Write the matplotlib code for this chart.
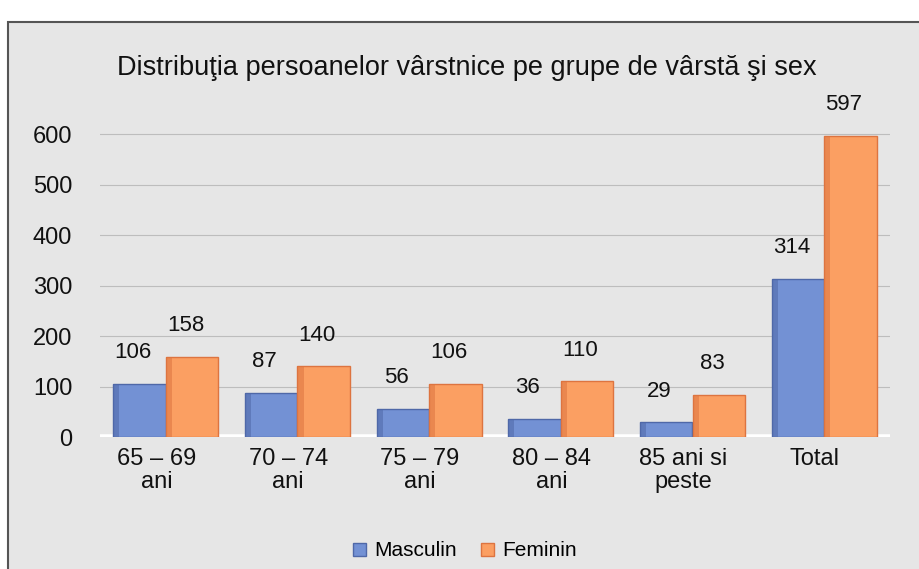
import matplotlib.pyplot as plt
from matplotlib.patches import Rectangle
import numpy as np

plt.rcParams['font.family'] = ['Liberation Sans', 'DejaVu Sans']

categories = ['65 – 69\nani', '70 – 74\nani', '75 – 79\nani', '80 – 84\nani', '85 ani si\npeste', 'Total']
masculin = [106, 87, 56, 36, 29, 314]
feminin = [158, 140, 106, 110, 83, 597]

blue = '#7391d4'
blue_side = '#4f68a8'
orange = '#fb9f62'
orange_side = '#dd7440'

fig = plt.figure(figsize=(9.2, 5.69), dpi=100)
fig.patch.set_facecolor('white')

# scanned chart frame
fig.patches.append(Rectangle((8 / 920, -0.01), 1.0, 1 - 22 / 569 + 0.01,
                             transform=fig.transFigure, facecolor='#e6e6e6',
                             edgecolor='#555555', linewidth=1.5, zorder=-1))

ax = fig.add_axes([100 / 920, 132 / 569, 790 / 920, 328 / 569])
ax.set_facecolor('none')

x = np.arange(len(categories))
w = 0.4

b1 = ax.bar(x - w / 2, masculin, w, color=blue, edgecolor=blue_side, linewidth=1, label='Masculin', zorder=3)
b2 = ax.bar(x + w / 2, feminin, w, color=orange, edgecolor=orange_side, linewidth=1, label='Feminin', zorder=3)

# darker side strip to suggest the 3D look
for bars, side in ((b1, blue_side), (b2, orange_side)):
    for r in bars:
        ax.bar(r.get_x() + r.get_width() * 0.06, r.get_height(), r.get_width() * 0.12,
               color=side, alpha=0.55, linewidth=0, zorder=4)

for vals, off in ((masculin, -w / 2), (feminin, w / 2)):
    for xi, v in zip(x, vals):
        ax.annotate(str(v), (xi + off - 0.05, v), xytext=(0, 15), textcoords='offset points',
                    ha='center', va='bottom', fontsize=16, color='#111111', zorder=5)

# floor
ax.axhline(0, color='white', linewidth=4, zorder=2)

ax.set_ylim(0, 650)
ax.set_xlim(-0.5, 5.5)
ax.set_yticks(range(0, 700, 100))
ax.set_xticks(x - 0.07)
ax.set_xticklabels(categories, fontsize=17, linespacing=1.05, color='#111111')
ax.tick_params(axis='y', labelsize=17, labelcolor='#111111', length=0, pad=20)
ax.tick_params(axis='x', length=0, pad=8)
ax.grid(axis='y', color='#bdbdbd', linewidth=0.8, zorder=1)
ax.yaxis.get_gridlines()[0].set_visible(False)
for s in ax.spines.values():
    s.set_visible(False)

fig.text(467 / 920, 1 - 68 / 569, 'Distribuţia persoanelor vârstnice pe grupe de vârstă şi sex',
         ha='center', va='center', fontsize=19.5, color='#111111')

fig.legend(handles=[b1, b2], loc='center', bbox_to_anchor=(465 / 920, 1 - 551 / 569), ncol=2,
           frameon=False, fontsize=15, handlelength=0.6, handleheight=0.6,
           handletextpad=0.4, columnspacing=1.2)

fig.savefig('out.png', dpi=100, facecolor=fig.get_facecolor())
